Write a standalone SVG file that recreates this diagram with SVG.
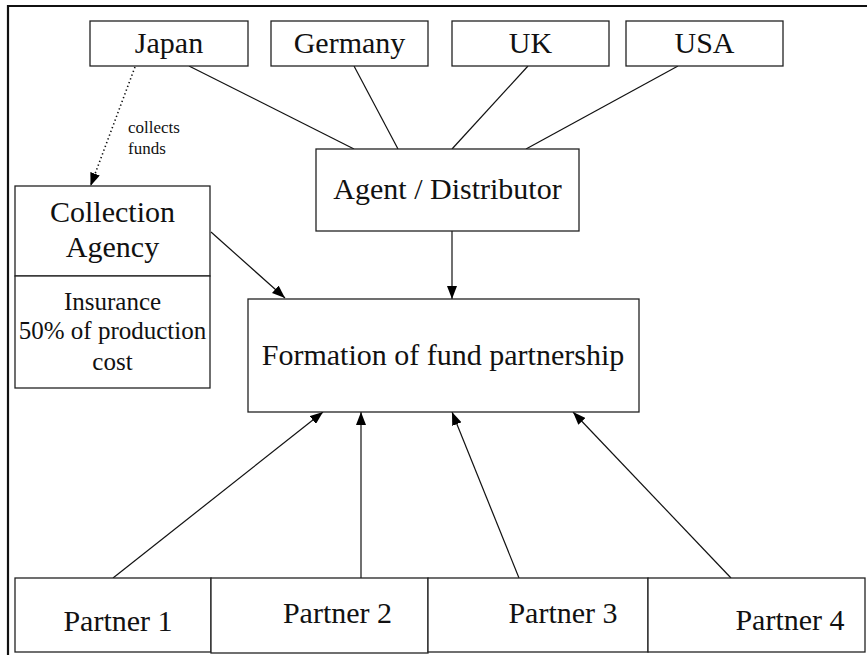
<svg xmlns="http://www.w3.org/2000/svg" width="867" height="655" viewBox="0 0 867 655">
  <style>
    .box { fill: #ffffff; stroke: #222222; stroke-width: 1.3; }
    .lbl { font-family: "Liberation Serif", "Times New Roman", serif; font-size: 30px; fill: #111111; text-anchor: middle; }
    .sm { font-size: 25px; }
    .note { font-family: "Liberation Serif", "Times New Roman", serif; font-size: 17px; fill: #111111; }
    .link { stroke: #111111; stroke-width: 1.2; fill: none; }
    .arrow { stroke: #111111; stroke-width: 1.2; fill: none; marker-end: url(#head); }
    .dotted { stroke: #111111; stroke-width: 1.6; fill: none; stroke-dasharray: 1.4 2.6; marker-end: url(#head); }
    .frame { stroke: #111111; stroke-width: 2.2; fill: none; }
  </style>
  <defs>
    <marker id="head" viewBox="0 0 13 10" refX="13" refY="5" markerWidth="13" markerHeight="10" markerUnits="userSpaceOnUse" orient="auto">
      <path d="M0,0 L13,5 L0,10 Z" fill="#000000"/>
    </marker>
  </defs>
  <rect width="867" height="655" fill="#ffffff"/>

  <!-- outer frame: top and left edges -->
  <path class="frame" d="M8,655 L8,6 L867,6"/>

  <g id="connectors">
    <line class="link" x1="189" y1="66" x2="354" y2="149"/>
    <line class="link" x1="354" y1="66" x2="398" y2="149"/>
    <line class="link" x1="528" y1="66" x2="452" y2="149"/>
    <line class="link" x1="678" y1="66" x2="526" y2="149"/>
    <line class="dotted" x1="135" y1="67" x2="90.5" y2="186"/>
    <line class="arrow" x1="211" y1="232" x2="285" y2="298"/>
    <line class="arrow" x1="452" y1="231" x2="452" y2="299"/>
    <line class="arrow" x1="113" y1="578" x2="323" y2="412"/>
    <line class="arrow" x1="361" y1="578" x2="361" y2="412"/>
    <line class="arrow" x1="519" y1="578" x2="452" y2="412"/>
    <line class="arrow" x1="731" y1="578" x2="573" y2="412"/>
    <text class="note" x="128" y="133">collects</text>
    <text class="note" x="128" y="154">funds</text>
  </g>

  <g id="japan">
    <rect class="box" x="90" y="21" width="158" height="45"/>
    <text class="lbl" x="169" y="53">Japan</text>
  </g>
  <g id="germany">
    <rect class="box" x="271" y="21" width="157" height="45"/>
    <text class="lbl" x="349.5" y="53">Germany</text>
  </g>
  <g id="uk">
    <rect class="box" x="452" y="21" width="157" height="45"/>
    <text class="lbl" x="530.5" y="53">UK</text>
  </g>
  <g id="usa">
    <rect class="box" x="626" y="21" width="157" height="45"/>
    <text class="lbl" x="704.5" y="53">USA</text>
  </g>

  <g id="agent-distributor">
    <rect class="box" x="316" y="149" width="263" height="82"/>
    <text class="lbl" x="447.5" y="199">Agent / Distributor</text>
  </g>

  <g id="collection-agency">
    <rect class="box" x="15" y="186" width="195" height="90"/>
    <text class="lbl" x="112.5" y="222">Collection</text>
    <text class="lbl" x="112.5" y="257">Agency</text>
  </g>

  <g id="insurance">
    <rect class="box" x="15" y="276" width="195" height="112"/>
    <text class="lbl sm" x="112.5" y="310">Insurance</text>
    <text class="lbl sm" x="112.5" y="339">50% of production</text>
    <text class="lbl sm" x="112.5" y="370">cost</text>
  </g>

  <g id="fund-partnership">
    <rect class="box" x="248" y="299" width="391" height="113"/>
    <text class="lbl" x="443" y="365">Formation of fund partnership</text>
  </g>

  <g id="partner-1">
    <rect class="box" x="15" y="578" width="196" height="74"/>
    <text class="lbl" x="118" y="631">Partner 1</text>
  </g>
  <g id="partner-2">
    <rect class="box" x="211" y="578" width="217" height="75"/>
    <text class="lbl" x="337.5" y="623">Partner 2</text>
  </g>
  <g id="partner-3">
    <rect class="box" x="428" y="578" width="220" height="74"/>
    <text class="lbl" x="563" y="623">Partner 3</text>
  </g>
  <g id="partner-4">
    <rect class="box" x="648" y="578" width="217" height="74"/>
    <text class="lbl" x="790" y="630">Partner 4</text>
  </g>
</svg>
